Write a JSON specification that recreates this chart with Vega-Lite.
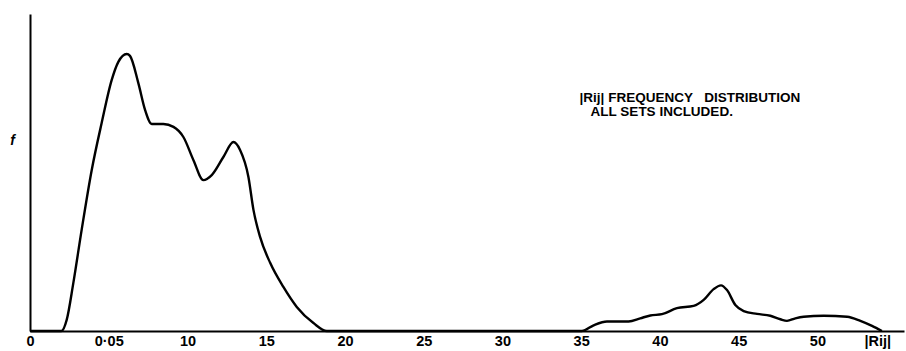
{
  "$schema": "https://vega.github.io/schema/vega-lite/v6.json",
  "width": 874,
  "height": 317,
  "autosize": {"type": "none"},
  "padding": {"left": 30, "top": 14, "right": 2, "bottom": 20},
  "background": "white",
  "config": {"view": {"stroke": null}, "font": "Liberation Sans"},
  "datasets": {
    "curve": [
      {"r": 0, "f": 0}, {"r": 2.0, "f": 0}, {"r": 2.33, "f": 3.5}, {"r": 2.75, "f": 15.1},
      {"r": 3.28, "f": 31.9}, {"r": 3.92, "f": 50.8}, {"r": 4.55, "f": 65.6}, {"r": 5.19, "f": 79.2},
      {"r": 5.61, "f": 84.9}, {"r": 6.14, "f": 87.4}, {"r": 6.35, "f": 86.8}, {"r": 6.88, "f": 78.2},
      {"r": 7.31, "f": 69.7}, {"r": 7.73, "f": 65.3}, {"r": 8.47, "f": 65.3}, {"r": 9.11, "f": 64.4},
      {"r": 9.74, "f": 61.2}, {"r": 10.38, "f": 53.9}, {"r": 11.01, "f": 47.6}, {"r": 11.54, "f": 49.2},
      {"r": 12.28, "f": 54.9}, {"r": 12.92, "f": 59.6}, {"r": 13.34, "f": 57.1}, {"r": 13.87, "f": 48.6},
      {"r": 14.19, "f": 38.2}, {"r": 14.61, "f": 29.7}, {"r": 15.25, "f": 21.5}, {"r": 16.09, "f": 13.9},
      {"r": 16.94, "f": 7.6}, {"r": 18.0, "f": 2.5}, {"r": 18.85, "f": 0}, {"r": 35.05, "f": 0},
      {"r": 35.79, "f": 1.8}, {"r": 36.64, "f": 3.0}, {"r": 38.01, "f": 3.0}, {"r": 38.75, "f": 4.0},
      {"r": 39.39, "f": 4.9}, {"r": 40.13, "f": 5.3}, {"r": 41.08, "f": 7.2}, {"r": 42.14, "f": 7.9},
      {"r": 42.78, "f": 9.8}, {"r": 43.41, "f": 13.2}, {"r": 43.88, "f": 14.4}, {"r": 44.26, "f": 12.9},
      {"r": 44.79, "f": 8.2}, {"r": 45.32, "f": 6.3}, {"r": 46.17, "f": 5.4}, {"r": 47.01, "f": 4.8},
      {"r": 47.65, "f": 3.7}, {"r": 48.07, "f": 3.2}, {"r": 48.6, "f": 4.0}, {"r": 49.13, "f": 4.5},
      {"r": 50.4, "f": 4.8}, {"r": 51.89, "f": 4.5}, {"r": 52.73, "f": 3.2}, {"r": 53.47, "f": 1.6},
      {"r": 54.1, "f": 0}
    ],
    "notes": [
      {"r": 34.9, "f": 73.6, "text": "|Rij| FREQUENCY\u00a0\u00a0\u00a0DISTRIBUTION"},
      {"r": 35.6, "f": 69.0, "text": "ALL SETS INCLUDED."}
    ]
  },
  "layer": [
    {
      "data": {"name": "curve"},
      "mark": {"type": "line", "interpolate": "monotone", "color": "black", "strokeWidth": 2.4},
      "encoding": {
        "x": {
          "field": "r", "type": "quantitative",
          "scale": {"domain": [0, 55.5], "nice": false, "zero": true},
          "axis": {
            "title": null,
            "values": [0, 5, 10, 15, 20, 25, 30, 35, 40, 45, 50, 53.8],
            "labelExpr": "datum.value == 0 ? '0' : datum.value == 5 ? '0·05' : datum.value > 53 ? '|Rij|' : datum.label",
            "grid": false, "ticks": false, "domainColor": "black", "domainWidth": 2,
            "labelColor": "black", "labelFontSize": 14.5, "labelFont": "Liberation Sans", "labelFontWeight": "bold",
            "labelPadding": 3, "labelFlush": false, "labelOverlap": false
          }
        },
        "y": {
          "field": "f", "type": "quantitative",
          "scale": {"domain": [0, 100], "nice": false},
          "axis": {
            "title": "f", "titleAngle": 0, "titleFontStyle": "italic", "titleFontWeight": "bold",
            "titleFontSize": 14, "titleColor": "black", "titleX": -18, "titleY": 126,
            "titleAlign": "center", "titleBaseline": "middle",
            "labels": false, "ticks": false, "grid": false,
            "domainColor": "black", "domainWidth": 2
          }
        }
      }
    },
    {
      "data": {"name": "notes"},
      "mark": {"type": "text", "align": "left", "baseline": "middle", "fontSize": 13.5, "fontWeight": "bold", "color": "black", "font": "Liberation Sans"},
      "encoding": {
        "x": {"field": "r", "type": "quantitative"},
        "y": {"field": "f", "type": "quantitative"},
        "text": {"field": "text"}
      }
    }
  ]
}
